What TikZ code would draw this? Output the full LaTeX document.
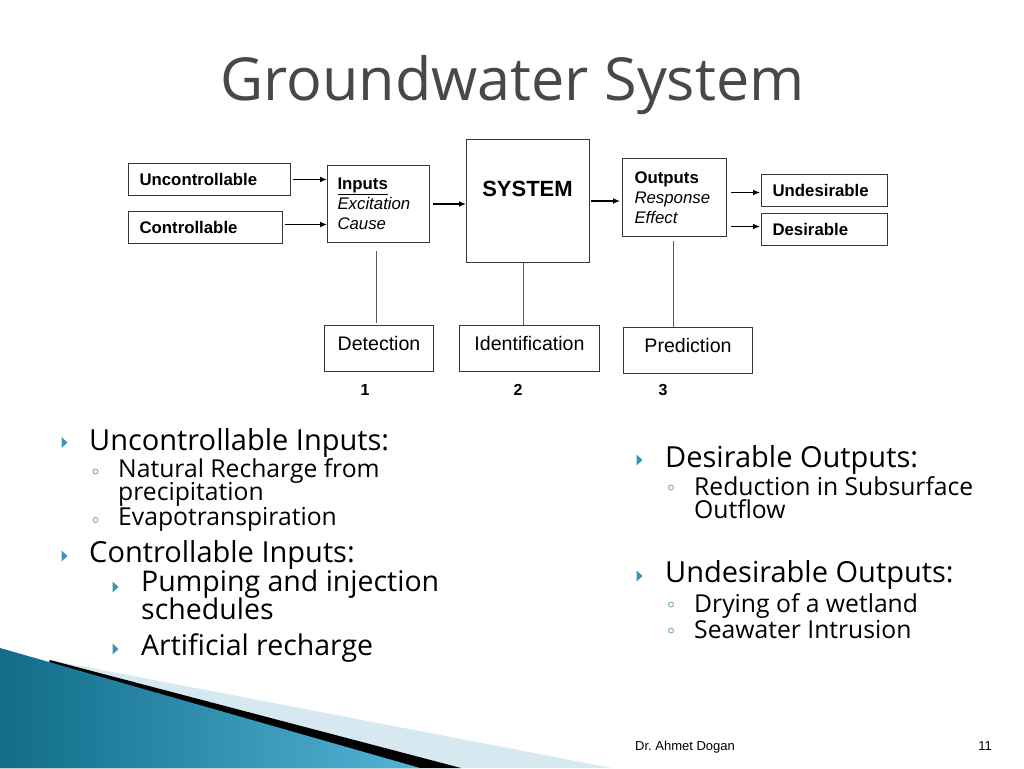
\documentclass[tikz,border=0pt]{standalone}
\usepackage{fontspec}
\setmainfont{Open Sans}
\newfontfamily\arialf{Liberation Sans}
\usetikzlibrary{arrows.meta}
\newcommand\tightlines{\lineskiplimit=-100pt\relax\lineskip=0pt\relax}
\definecolor{titlegray}{RGB}{72,72,72}
\definecolor{bordergray}{RGB}{55,55,55}
\definecolor{linegray}{RGB}{90,90,90}
\definecolor{bullteal}{RGB}{54,152,182}
\definecolor{circblue}{RGB}{110,160,180}
\definecolor{tealdark}{RGB}{16,108,136}
\definecolor{teallight}{RGB}{84,180,214}
\definecolor{paleblue}{RGB}{214,233,241}
\tikzset{
  box/.style={draw=bordergray, line width=1pt, inner ysep=0pt, anchor=north west, font=\arialf},
  lbox/.style={box, align=left, inner xsep=#1},
  lowbox/.style={box, inner xsep=0pt, text height=14pt, text depth=10pt, font=\arialf\fontsize{19.6}{22}\selectfont},
  arr/.style={-{Latex[length=7pt,width=6pt]}, line width=1.3pt, black},
  vline/.style={draw=linegray, line width=1pt},
  tbul/.style={fill=bullteal},
  cbul/.style={draw=circblue, line width=0.8pt},
  lvone/.style={anchor=base west, inner sep=0pt, font=\fontsize{29}{30}\selectfont},
  lvtwo/.style={anchor=base west, inner sep=0pt, align=left, font=\fontsize{24.7}{23.5}\selectfont\tightlines},
  lvtwob/.style={anchor=base west, inner sep=0pt, align=left, font=\fontsize{28.5}{28}\selectfont\tightlines},
  numlab/.style={font=\arialf\bfseries\fontsize{16}{18}\selectfont}
}
\begin{document}
\begin{tikzpicture}[x=1pt,y=-1pt]
\useasboundingbox (0,0) rectangle (1024,768);
\fill[white] (0,0) rectangle (1024,768);

% bottom-left decoration
\fill[paleblue] (55,661) -- (612,768) -- (0,768) -- cycle;
\fill[black] (50,660) -- (461,768) -- (0,768) -- cycle;
\shade[left color=tealdark, right color=teallight] (0,648) -- (420,768) -- (0,768) -- cycle;

% title
\node[anchor=base, inner sep=0pt, font=\fontsize{59.3}{62}\selectfont, text=titlegray] (title) at (512.5,100) {Groundwater System};

% diagram boxes
\node[lbox=11pt, text width=140pt, minimum width=162pt, minimum height=32pt, font=\arialf\bfseries\fontsize{16.8}{20}\selectfont] (unc) at (128,163) {Uncontrollable};
\node[lbox=11pt, text width=132pt, minimum width=154pt, minimum height=32pt, font=\arialf\bfseries\fontsize{16.8}{20}\selectfont] (ctl) at (128,211) {Controllable};
\node[lbox=10pt, text width=82pt, minimum width=102pt, minimum height=77pt, font=\arialf\fontsize{16.8}{20}\selectfont] (inp) at (327,165) {\textbf{\underline{Inputs}}\\\textit{Excitation}\\\textit{Cause}};
\node[box, minimum width=123pt, minimum height=123pt] (sys) at (466,139) {};
\node[font=\arialf\bfseries\fontsize{22}{24}\selectfont] (systxt) at (527.5,189) {SYSTEM};
\node[lbox=12pt, text width=80pt, minimum width=104pt, minimum height=78pt, font=\arialf\fontsize{16.8}{20}\selectfont] (out) at (622,158) {\textbf{Outputs}\\\textit{Response}\\\textit{Effect}};
\node[lbox=11pt, text width=104pt, minimum width=126pt, minimum height=32pt, font=\arialf\bfseries\fontsize{16.8}{20}\selectfont] (und) at (761,174) {Undesirable};
\node[lbox=11pt, text width=104pt, minimum width=126pt, minimum height=32pt, font=\arialf\bfseries\fontsize{16.8}{20}\selectfont] (des) at (761,213) {Desirable};
\node[lowbox, minimum width=109pt, minimum height=46pt] (det) at (324,325) {Detection};
\node[lowbox, minimum width=140pt, minimum height=46pt] (idn) at (459,325) {Identification};
\node[lowbox, minimum width=129pt, minimum height=46pt] (pre) at (623,327) {Prediction};

\node[numlab] (n1) at (365,390) {1};
\node[numlab] (n2) at (518,390) {2};
\node[numlab] (n3) at (663,390) {3};

% connectors
\draw[arr, shorten <=2pt] (unc.east) -- (unc.east -| inp.west);
\draw[arr, shorten <=2pt] ([yshift=3pt]ctl.east) -- ([yshift=3pt]ctl.east -| inp.west);
\draw[arr, shorten <=3pt] (inp.east) -- (inp.east -| sys.west);
\draw[arr, shorten <=1pt, shorten >=2pt] (sys.east) -- (sys.east -| out.west);
\draw[arr, shorten <=4pt, shorten >=1pt] ([yshift=-2pt]und.west -| out.east) -- ([yshift=-2pt]und.west);
\draw[arr, shorten <=4pt, shorten >=1pt] ([yshift=3pt]des.west -| out.east) -- ([yshift=3pt]des.west);
\draw[vline, shorten <=8pt, shorten >=2pt] ([xshift=-2pt]inp.south) -- ([xshift=-2pt]inp.south |- det.north);
\draw[vline] ([xshift=-4.5pt]sys.south) -- ([xshift=-4.5pt]sys.south |- idn.north);
\draw[vline, shorten <=4pt] ([xshift=-1pt]out.south) -- ([xshift=-1pt]out.south |- pre.north);

% left bullets
\fill[tbul] (61.5,437) -- (67.5,442.5) -- (61.5,448) -- cycle;
\node[lvone] (b1) at (89,450) {Uncontrollable Inputs:};
\draw[cbul] (95.5,471.5) circle (2.5pt);
\node[lvtwo] (b11) at (118,500.5) {Natural Recharge from\\precipitation};
\draw[cbul] (95.5,520) circle (2.5pt);
\node[lvtwo] (b12) at (118,525) {Evapotranspiration};
\fill[tbul] (61.5,550.5) -- (67.5,556) -- (61.5,561.5) -- cycle;
\node[lvone] (b2) at (89,562) {Controllable Inputs:};
\fill[tbul] (112.5,581.5) -- (118.5,587) -- (112.5,592.5) -- cycle;
\node[lvtwob] (b21) at (141,619) {Pumping and injection\\schedules};
\fill[tbul] (112.5,643.5) -- (118.5,649) -- (112.5,654.5) -- cycle;
\node[lvtwob] (b22) at (141,655) {Artificial recharge};

% right bullets
\fill[tbul] (636.5,454.5) -- (642.5,460) -- (636.5,465.5) -- cycle;
\node[lvone] (r1) at (665,467) {Desirable Outputs:};
\draw[cbul] (671,487.5) circle (2.5pt);
\node[lvtwo] (r11) at (694,518.5) {Reduction in Subsurface\\Outflow};
\fill[tbul] (636.5,570.5) -- (642.5,576) -- (636.5,581.5) -- cycle;
\node[lvone] (r2) at (665,582) {Undesirable Outputs:};
\draw[cbul] (671,604.5) circle (2.5pt);
\node[lvtwo] (r21) at (694,612) {Drying of a wetland};
\draw[cbul] (671,630.5) circle (2.5pt);
\node[lvtwo] (r22) at (694,638) {Seawater Intrusion};

% footer
\node[anchor=base west, inner sep=0pt, font=\arialf\fontsize{13}{15}\selectfont] (foot) at (635,750) {Dr.\ Ahmet Dogan};
\node[anchor=base east, inner sep=0pt, font=\arialf\fontsize{13}{15}\selectfont] (pg) at (992,750) {11};
\end{tikzpicture}
\end{document}
